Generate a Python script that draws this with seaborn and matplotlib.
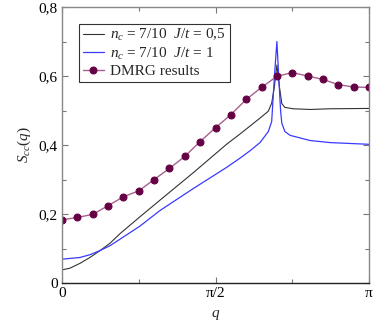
import numpy as np
import pandas as pd
import matplotlib
matplotlib.use("Agg")
import matplotlib.pyplot as plt
import seaborn as sns

# q in units of pi
q_black = [0.0, 0.026, 0.0586, 0.091, 0.124, 0.156, 0.189, 0.254, 0.319, 0.428, 0.536, 0.580, 0.645,
           0.672, 0.683, 0.692, 0.700, 0.708, 0.716, 0.726, 0.753, 0.808, 0.873, 1.0]
s_black = [0.038, 0.043, 0.057, 0.074, 0.094, 0.115, 0.143, 0.192, 0.240, 0.320, 0.402, 0.432, 0.478,
           0.498, 0.521, 0.570, 0.632, 0.570, 0.520, 0.509, 0.505, 0.503, 0.505, 0.506]

q_blue = [0.0, 0.0586, 0.091, 0.124, 0.156, 0.189, 0.254, 0.319, 0.428, 0.536, 0.580, 0.612, 0.645,
          0.672, 0.683, 0.692, 0.700, 0.707, 0.712, 0.716, 0.726, 0.743, 0.808, 0.873, 1.0]
s_blue = [0.069, 0.074, 0.082, 0.094, 0.108, 0.127, 0.165, 0.210, 0.274, 0.335, 0.362, 0.383, 0.407,
          0.439, 0.468, 0.600, 0.700, 0.580, 0.500, 0.463, 0.439, 0.428, 0.413, 0.407, 0.402]

q_dmrg = [k / 20 for k in range(21)]
s_dmrg = [0.183, 0.190, 0.199, 0.224, 0.250, 0.267, 0.300, 0.332, 0.367, 0.410, 0.450, 0.488,
          0.532, 0.567, 0.599, 0.610, 0.600, 0.590, 0.575, 0.568, 0.567]

labels = [r"$n_c$ = 7/10  $J/t$ = 0,5", r"$n_c$ = 7/10  $J/t$ = 1", "DMRG results"]
xtick_labels = ["0", "\u03c0/2", "\u03c0"]
ytick_labels = ["0", "0,2", "0,4", "0,6", "0,8"]

sns.set_style("ticks")
plt.rcParams["font.family"] = ["Liberation Serif", "DejaVu Serif"]
plt.rcParams["mathtext.fontset"] = "custom"
plt.rcParams["mathtext.it"] = "Liberation Serif:italic"
plt.rcParams["mathtext.rm"] = "Liberation Serif"

fig = plt.figure(figsize=(3.74, 3.24), dpi=100)
ax = fig.add_axes([62 / 374, 41 / 324, 307 / 374, 276 / 324])

df_b = pd.DataFrame({"q": np.array(q_black) * np.pi, "S": s_black})
df_u = pd.DataFrame({"q": np.array(q_blue) * np.pi, "S": s_blue})
df_d = pd.DataFrame({"q": np.array(q_dmrg) * np.pi, "S": s_dmrg})

sns.lineplot(data=df_b, x="q", y="S", ax=ax, color="#333333", lw=0.8, label=labels[0], sort=False)
sns.lineplot(data=df_u, x="q", y="S", ax=ax, color="#3a3aff", lw=0.9, label=labels[1], sort=False)
sns.lineplot(data=df_d, x="q", y="S", ax=ax, color="#a8608f", lw=1.0, marker="o", markersize=5,
             markerfacecolor="#660044", markeredgecolor="#660044", label=labels[2], sort=False)

ax.set_xlim(0, np.pi)
ax.set_ylim(0, 0.8)
ax.set_xticks([0, np.pi / 2, np.pi])
ax.set_xticklabels(xtick_labels)
ax.set_xticks([np.pi / 4, 3 * np.pi / 4], minor=True)
ax.set_yticks([0, 0.2, 0.4, 0.6, 0.8])
ax.set_yticklabels(ytick_labels)
ax.set_yticks([0.1, 0.3, 0.5, 0.7], minor=True)
ax.tick_params(which="both", direction="in", top=True, right=True, labelsize=11, colors="#777777",
               labelcolor="black", length=4, width=0.8, pad=3)
ax.tick_params(which="minor", length=3)

for s in ["top", "right", "left"]:
    ax.spines[s].set_color("#888888")
    ax.spines[s].set_linewidth(1.0)
ax.spines["bottom"].set_color("#222222")
ax.spines["bottom"].set_linewidth(1.0)

ax.set_xlabel(r"$q$", fontsize=11, labelpad=6)
ax.set_ylabel(r"$S_{cc}(q)$", fontsize=11, labelpad=4)

leg = ax.legend(loc="upper left", bbox_to_anchor=(0.055, 0.94), fontsize=11, frameon=True,
                fancybox=False, edgecolor="black", handlelength=1.4, handletextpad=0.4,
                borderpad=0.25, labelspacing=0.15, borderaxespad=0)
leg.get_frame().set_linewidth(0.8)

fig.savefig("out.png", dpi=100)
